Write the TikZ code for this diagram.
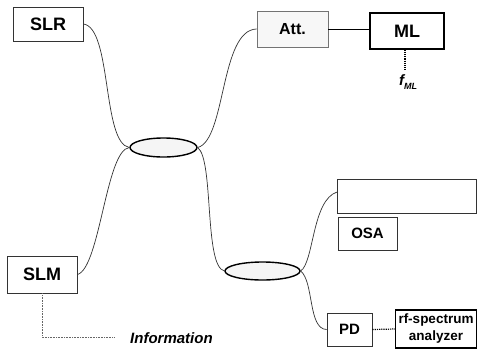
\documentclass[tikz,border=0pt]{standalone}
\usepackage{fontspec}
\setmainfont{Liberation Sans}
\usetikzlibrary{shapes.geometric}
\begin{document}
\begin{tikzpicture}[x=1pt,y=-1pt,
  box/.style={draw=black!80,line width=0.9pt,inner sep=0pt,font=\bfseries\fontsize{18}{20}\selectfont},
  coupler/.style={draw=black,ellipse,line width=1.4pt,fill=black!4,inner sep=0pt},
  fiber/.style={draw=black!80,line width=0.7pt},
  sig/.style={draw=black!60,line width=0.6pt,densely dotted}]
\useasboundingbox (0,0) rectangle (478,351);
% boxes
\node[box,minimum width=70,minimum height=34] (slr) at (48,24) {SLR};
\node[box,draw=black!55,fill=black!3,minimum width=71,minimum height=36,font=\bfseries\fontsize{16}{18}\selectfont] (att) at (292.5,29) {Att.};
\node[box,draw=black,line width=1.2pt,minimum width=74,minimum height=36] (ml) at (407,31) {ML};
\node[box,minimum width=139,minimum height=34] (big) at (407,196) {};
\node[box,minimum width=59,minimum height=33,font=\bfseries\fontsize{15}{17}\selectfont] (osa) at (367.5,233.5) {OSA};
\node[box,minimum width=70,minimum height=37] (slm) at (42,274.5) {SLM};
\node[box,minimum width=45,minimum height=33,font=\bfseries\fontsize{15}{17}\selectfont] (pd) at (349.5,329.5) {PD};
\node[box,draw=black,line width=1.2pt,minimum width=81,minimum height=38,align=center,font=\bfseries\fontsize{13.5}{17}\selectfont] (rf) at (436,329) {rf-spectrum\\analyzer};
% couplers
\node[coupler,minimum width=67,minimum height=19] (c1) at (163.5,147.5) {};
\node[coupler,minimum width=75,minimum height=18] (c2) at (262.5,271) {};
% fibers
\draw[fiber] (slr.east) .. controls (112,28) and (102,143) .. (c1.west);
\draw[fiber] (slm.east) .. controls (100,268) and (106,150) .. (c1.west);
\draw[fiber] (c1.east) .. controls (226,140) and (220,30) .. (att.west);
\draw[fiber] (c1.east) .. controls (214,160) and (204,266) .. (c2.west);
\coordinate (bigin) at ([yshift=4]big.west);
\draw[fiber] (c2.east) .. controls (314,262) and (312,200) .. (bigin);
\draw[fiber] (c2.east) .. controls (314,282) and (308,329) .. (pd.west);
\draw[black,line width=1pt] (att.east) -- (att.east -| ml.west);
% signals
\coordinate (fmlend) at (405,70);
\draw[black,line width=1.2pt,densely dotted] (ml.south -| fmlend) -- (fmlend);
\node[inner sep=0pt] (fml) at (408,82) {\bfseries\itshape\fontsize{15}{16}\selectfont f\raisebox{-4pt}{\fontsize{9}{9}\selectfont ML}};
\coordinate (infcorner) at (42,337);
\coordinate (infend) at (115,337);
\draw[sig] (slm.south) -- (infcorner) -- (infend);
\node[anchor=west,font=\bfseries\itshape\fontsize{15}{17}\selectfont,inner sep=0pt] (info) at (130,338) {Information};
\draw[black,line width=1.2pt,densely dotted] (pd.east) -- (rf.west);
\end{tikzpicture}
\end{document}
